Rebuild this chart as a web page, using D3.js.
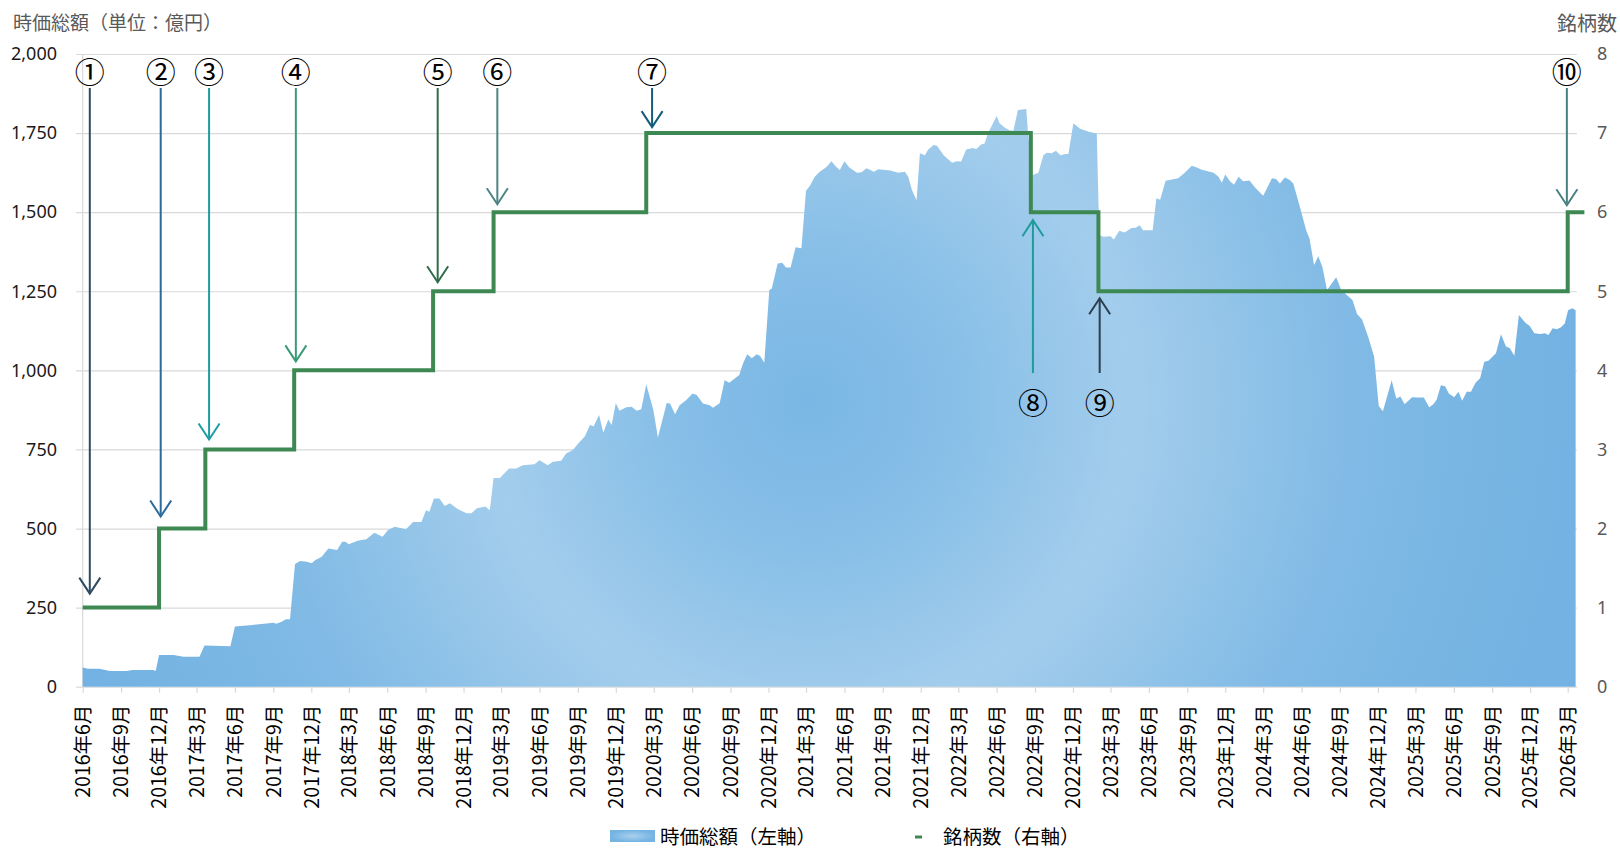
<!DOCTYPE html>
<html><head><meta charset="utf-8">
<script src="https://cdn.jsdelivr.net/npm/d3@7"></script>
<style>
body{margin:0;background:#fff}
svg{display:block}
text{font-family:"Noto Sans CJK JP","Noto Sans",sans-serif}
</style>
</head><body>
<svg id="chart" width="1620" height="848"></svg>
<script>
// ---- data ----
const capDates = ["2016-06-01","2016-06-13","2016-07-11","2016-08-05","2016-09-14","2016-09-29","2016-11-17","2016-11-23","2016-12-01","2017-01-05","2017-01-29","2017-03-08","2017-03-20","2017-05-21","2017-06-01","2017-07-13","2017-08-16","2017-09-01","2017-09-08","2017-09-21","2017-10-01","2017-10-11","2017-10-23","2017-11-04","2017-11-20","2017-12-02","2017-12-10","2017-12-26","2018-01-11","2018-02-01","2018-02-13","2018-02-21","2018-03-01","2018-03-22","2018-04-12","2018-05-01","2018-05-21","2018-06-03","2018-06-19","2018-07-16","2018-08-02","2018-08-22","2018-09-02","2018-09-10","2018-09-21","2018-10-04","2018-10-17","2018-10-29","2018-11-18","2018-12-08","2018-12-20","2019-01-02","2019-01-22","2019-02-02","2019-02-11","2019-02-26","2019-03-20","2019-04-06","2019-04-22","2019-05-20","2019-06-01","2019-06-21","2019-07-03","2019-07-23","2019-08-04","2019-08-20","2019-09-02","2019-09-18","2019-09-30","2019-10-09","2019-10-22","2019-11-01","2019-11-13","2019-11-21","2019-12-01","2019-12-10","2019-12-26","2020-01-08","2020-01-20","2020-01-31","2020-02-12","2020-02-29","2020-03-11","2020-04-01","2020-04-09","2020-04-21","2020-05-02","2020-05-18","2020-06-02","2020-06-12","2020-06-27","2020-07-13","2020-07-21","2020-08-06","2020-08-18","2020-08-29","2020-09-22","2020-10-01","2020-10-11","2020-10-22","2020-11-03","2020-11-11","2020-11-21","2020-12-03","2020-12-09","2020-12-23","2021-01-03","2021-01-12","2021-01-23","2021-02-04","2021-02-18","2021-03-01","2021-03-10","2021-03-22","2021-04-03","2021-04-19","2021-05-01","2021-05-11","2021-05-21","2021-06-01","2021-06-13","2021-07-01","2021-07-12","2021-07-24","2021-08-11","2021-08-21","2021-09-19","2021-10-08","2021-10-24","2021-11-01","2021-11-10","2021-11-21","2021-11-29","2021-12-11","2021-12-19","2022-01-01","2022-01-09","2022-01-25","2022-02-14","2022-02-26","2022-03-08","2022-03-20","2022-04-05","2022-04-13","2022-04-25","2022-05-03","2022-05-11","2022-06-01","2022-06-08","2022-06-20","2022-07-02","2022-07-11","2022-07-22","2022-08-11","2022-08-15","2022-08-26","2022-09-09","2022-09-21","2022-09-29","2022-10-11","2022-10-21","2022-11-01","2022-11-13","2022-11-20","2022-12-02","2022-12-18","2023-01-08","2023-01-27","2023-02-02","2023-02-12","2023-03-01","2023-03-09","2023-03-22","2023-04-04","2023-04-20","2023-04-30","2023-05-10","2023-05-18","2023-06-10","2023-06-19","2023-06-28","2023-07-11","2023-07-29","2023-08-10","2023-08-26","2023-09-12","2023-09-24","2023-10-06","2023-11-03","2023-11-15","2023-11-23","2023-12-01","2023-12-13","2023-12-22","2024-01-02","2024-01-13","2024-01-28","2024-02-12","2024-03-01","2024-03-22","2024-04-01","2024-04-10","2024-04-22","2024-05-04","2024-05-12","2024-05-20","2024-05-30","2024-06-12","2024-06-20","2024-07-01","2024-07-11","2024-07-21","2024-08-01","2024-08-23","2024-09-04","2024-09-22","2024-10-01","2024-10-12","2024-10-24","2024-11-09","2024-11-22","2024-12-03","2024-12-13","2024-12-23","2025-01-03","2025-01-14","2025-01-24","2025-02-03","2025-02-21","2025-03-07","2025-03-21","2025-04-03","2025-04-13","2025-04-21","2025-05-01","2025-05-11","2025-05-20","2025-06-02","2025-06-12","2025-06-21","2025-07-02","2025-07-12","2025-07-23","2025-08-03","2025-08-13","2025-08-23","2025-09-10","2025-09-22","2025-10-04","2025-10-13","2025-10-24","2025-11-04","2025-11-20","2025-11-30","2025-12-11","2025-12-26","2026-01-05","2026-01-14","2026-01-24","2026-02-03","2026-02-13","2026-02-22","2026-03-02","2026-03-12","2026-03-20"];
const capValues = [61,57,57,50,50,53,53,50,100,100,95,95,130,128,190,195,200,202,199,205,213,213,388,397,395,390,400,411,437,432,458,458,450,461,466,487,474,495,506,498,521,521,558,553,595,595,571,580,561,548,548,564,570,558,660,660,690,690,700,703,716,700,711,714,737,748,769,792,827,823,859,803,845,827,896,872,883,885,872,877,956,875,788,897,895,861,890,906,927,922,895,890,882,896,969,961,985,1022,1051,1038,1051,1045,1024,1254,1259,1338,1340,1325,1325,1389,1386,1568,1583,1612,1628,1643,1661,1645,1633,1661,1641,1625,1626,1639,1628,1636,1632,1625,1628,1612,1570,1538,1686,1680,1698,1712,1710,1680,1656,1661,1660,1698,1703,1700,1714,1717,1749,1804,1781,1768,1759,1757,1823,1826,1754,1617,1625,1680,1688,1686,1694,1680,1684,1684,1781,1764,1754,1749,1428,1422,1424,1414,1441,1436,1450,1451,1459,1443,1443,1544,1539,1599,1604,1607,1625,1647,1641,1634,1625,1612,1593,1619,1597,1587,1612,1598,1600,1576,1552,1607,1605,1591,1610,1602,1591,1554,1507,1443,1417,1333,1361,1327,1254,1294,1254,1233,1222,1178,1161,1101,1043,887,871,917,969,911,917,893,915,914,914,883,893,908,953,950,927,915,932,904,932,932,961,975,1027,1030,1054,1114,1075,1071,1046,1175,1150,1140,1117,1115,1117,1112,1133,1130,1136,1148,1190,1196,1190];

const countDates  = ["2016-06-01","2016-12-01","2017-03-22","2017-10-21","2018-09-19","2019-02-11","2020-02-12","2022-08-22","2023-01-31","2026-03-01","2026-04-10"];
const countValues = [1,2,3,4,5,6,7,6,5,6,6];

const leftTicks  = [0,250,500,750,1000,1250,1500,1750,2000];
const rightTicks = [0,1,2,3,4,5,6,7,8];
const xTickStart = "2016-06-01", xTickEnd = "2026-03-01";   // quarterly ticks
const xDomainEnd = "2026-03-23";

const markLabels = ["①","②","③","④","⑤","⑥","⑦","⑧","⑨","⑩"];
const markDates  = ["2016-06-18","2016-12-05","2017-03-31","2017-10-25","2018-09-30","2019-02-20","2020-02-26","2022-08-27","2023-02-03","2026-02-27"];
const markLevels = [1,2,3,4,5,6,7,6,5,6];
const markDir    = ["down","down","down","down","down","down","down","up","up","down"];
const markColors = ["#2D4A5E","#2C6A9A","#1D9CA3","#3C9A78","#2F6B48","#4C8585","#175B7A","#1F9C99","#2C3E50","#4A8080"];
const markGap    = [14,12,10,9,9,8,6,8,7,7];

const titleLeft  = "時価総額（単位：億円）";
const titleRight = "銘柄数";
const legendArea = "時価総額（左軸）";
const legendLine = "銘柄数（右軸）";

// ---- layout ----
const parse = d3.utcParse("%Y-%m-%d");
const L = 82.7, B = 686.7, T = 54, gridL = 76;
const x = d3.scaleUtc().domain([parse(xTickStart), parse(xTickEnd)]).range([L, 1567.7]);
const R = x(parse(xDomainEnd));
const yL = d3.scaleLinear().domain([0,2000]).range([B, T]);
const yR = d3.scaleLinear().domain([0,8]).range([B, T]);

const svg = d3.select("#chart");
const defs = svg.append("defs");
const rg = defs.append("radialGradient").attr("id","areaGrad")
  .attr("gradientUnits","userSpaceOnUse").attr("cx",810).attr("cy",400).attr("r",760);
[[0,"#7AB7E4"],[0.18,"#86BEE7"],[0.42,"#A3CDEC"],[0.72,"#80BAE5"],[1,"#73B2E2"]]
  .forEach(([o,c])=>rg.append("stop").attr("offset",o).attr("stop-color",c));
const lg = defs.append("radialGradient").attr("id","legGrad");
[[0,"#A9D0EE"],[1,"#74B3E2"]].forEach(([o,c])=>lg.append("stop").attr("offset",o).attr("stop-color",c));

// left axis with gridlines
const gLeft = svg.append("g").attr("transform",`translate(${gridL},0)`)
  .call(d3.axisLeft(yL).tickValues(leftTicks).tickFormat(d3.format(",")).tickSize(-(R-gridL)).tickPadding(19));
gLeft.select(".domain").remove();
gLeft.selectAll(".tick line").attr("stroke","#d9d9d9").attr("stroke-width",1.2);
gLeft.selectAll(".tick text").attr("fill","#1a1a1a").style("font-size","18px").style("font-family","'Noto Sans',sans-serif");

// left axis line
svg.append("line").attr("x1",L).attr("x2",L).attr("y1",T).attr("y2",B).attr("stroke","#d9d9d9").attr("stroke-width",1.2);

// area
const capData = capDates.map((d,i)=>({d:parse(d),v:capValues[i]}));
svg.append("path").datum(capData)
  .attr("fill","url(#areaGrad)")
  .attr("d", d3.area().x(p=>x(p.d)).y0(B).y1(p=>yL(p.v)));

// bottom axis (quarterly: Jun, Sep, Dec, Mar)
const tickDates = d3.utcMonth.range(parse(xTickStart), d3.utcDay.offset(parse(xTickEnd),1), 3);
const fmt = d=>`${d.getUTCFullYear()}年${d.getUTCMonth()+1}月`;
const gBot = svg.append("g").attr("transform",`translate(0,${B})`)
  .call(d3.axisBottom(x).tickValues(tickDates).tickFormat(fmt).tickSize(6));
gBot.select(".domain").remove();
gBot.selectAll(".tick line").attr("stroke","#d9d9d9").attr("stroke-width",1.2);
gBot.selectAll(".tick text")
  .attr("transform","translate(0,18) rotate(-90)")
  .attr("text-anchor","end").attr("x",0).attr("y",0).attr("dy","0.35em")
  .attr("fill","#000").style("font-size","19.5px");

// right axis
const gRight = svg.append("g").attr("transform",`translate(${R},0)`)
  .call(d3.axisRight(yR).tickValues(rightTicks).tickSize(0).tickPadding(20));
gRight.select(".domain").remove();
gRight.selectAll(".tick text").attr("fill","#595959").style("font-size","18px").style("font-family","'Noto Sans',sans-serif");

// step line
const cntData = countDates.map((d,i)=>({d:parse(d),v:countValues[i]}));
svg.append("path").datum(cntData)
  .attr("fill","none").attr("stroke","#3E8953").attr("stroke-width",4)
  .attr("stroke-linejoin","miter")
  .attr("d", d3.line().x(p=>x(p.d)).y(p=>yR(p.v)).curve(d3.curveStepAfter));

// markers (arrows with circled numbers)
const topY = 88, labTopY = 70, botY = 373, labBotY = 401;
markLabels.forEach((lab,i)=>{
  const mx = x(parse(markDates[i]));
  const lv = yR(markLevels[i]);
  const c = markColors[i];
  const g = svg.append("g").attr("stroke",c).attr("stroke-width",2).attr("fill","none");
  const up = markDir[i]==="up";
  const tip = up ? lv + markGap[i] : lv - markGap[i];
  const s = up ? 1 : -1;
  g.append("line").attr("x1",mx).attr("x2",mx).attr("y1",up?botY:topY).attr("y2",tip);
  g.append("polyline").attr("points",`${mx-10.5},${tip+16*s} ${mx},${tip} ${mx+10.5},${tip+16*s}`);
  svg.append("text").attr("x",mx).attr("y",up?labBotY:labTopY).attr("text-anchor","middle")
    .attr("dominant-baseline","central").style("font-size","30px").attr("fill","#000").text(lab);
});

// titles
svg.append("text").attr("x",13).attr("y",21).attr("dominant-baseline","central")
  .attr("fill","#595959").style("font-size","19px").text(titleLeft);
svg.append("text").attr("x",1617).attr("y",22).attr("text-anchor","end").attr("dominant-baseline","central")
  .attr("fill","#595959").style("font-size","20px").text(titleRight);

// legend
svg.append("rect").attr("x",610).attr("y",830).attr("width",45).attr("height",12).attr("fill","url(#legGrad)");
svg.append("text").attr("x",660).attr("y",835).attr("dominant-baseline","central")
  .attr("fill","#000").style("font-size","19.5px").text(legendArea);
svg.append("line").attr("x1",915).attr("x2",922).attr("y1",837).attr("y2",837).attr("stroke","#3E8953").attr("stroke-width",3);
svg.append("text").attr("x",943).attr("y",835).attr("dominant-baseline","central")
  .attr("fill","#000").style("font-size","19.5px").text(legendLine);
</script>
</body></html>
